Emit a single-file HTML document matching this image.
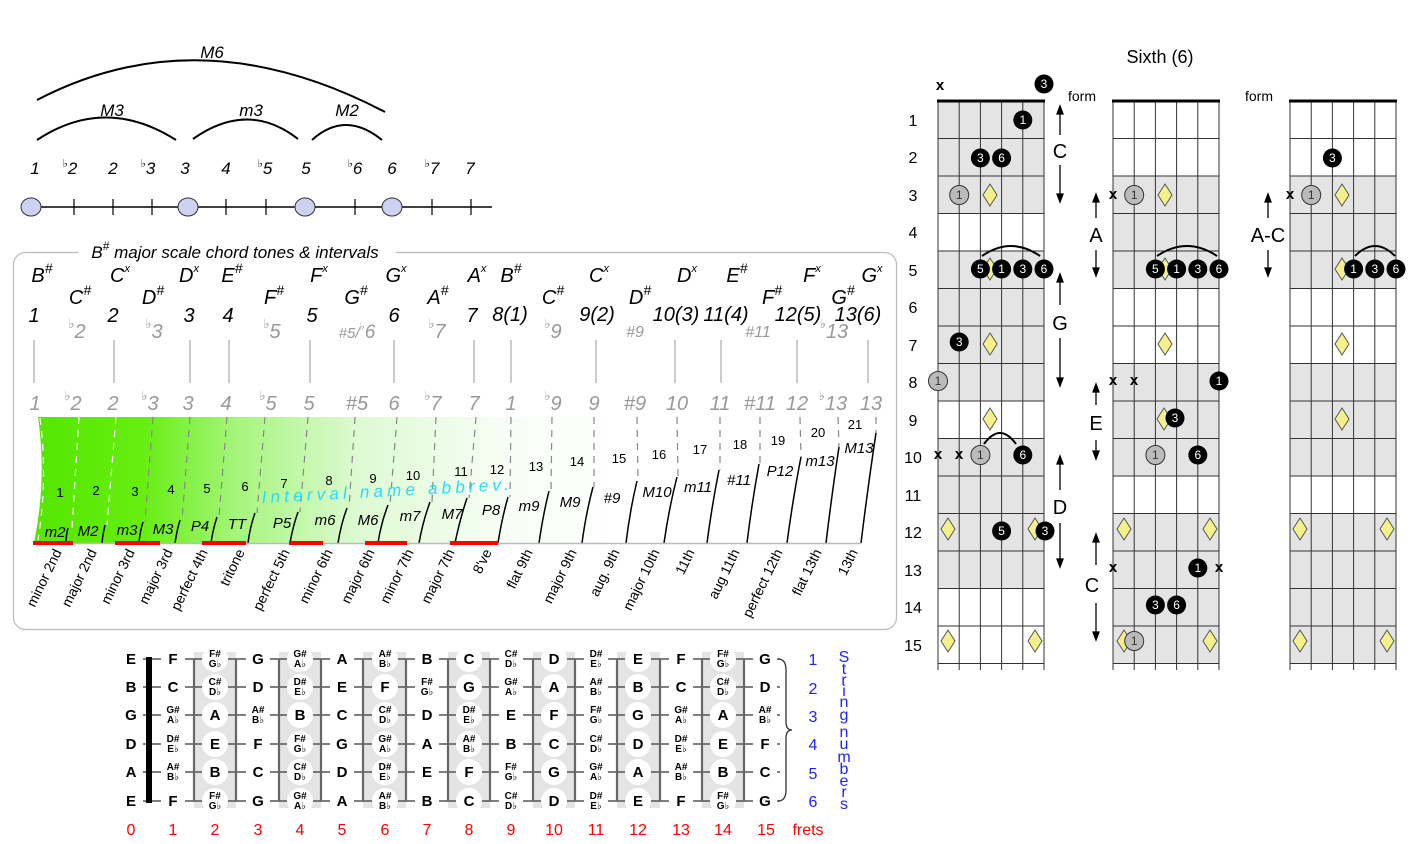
<!DOCTYPE html>
<html><head><meta charset="utf-8"><style>
html,body{margin:0;padding:0;background:#fff}
svg{display:block}
text{font-family:"Liberation Sans","DejaVu Sans",sans-serif}
.it{font-style:italic}
.n{font-weight:bold;font-size:15px;text-anchor:middle}
.s{font-weight:bold;font-size:10px;text-anchor:middle}
.fn{fill:#f00;font-size:16px;text-anchor:middle}
.bl{fill:#22f;font-size:16px;text-anchor:middle}
.dt{fill:#fff;font-size:12px;text-anchor:middle}
.gt{fill:#333;font-size:12px;text-anchor:middle}
.rl{font-size:14px;text-anchor:end}
.g{fill:#999}
.lab{font-size:20px;font-style:italic;text-anchor:middle}
.nm{font-size:13px;text-anchor:middle}
.ab{font-size:15px;font-style:italic;text-anchor:middle}
</style></head><body>
<svg width="1420" height="844" viewBox="0 0 1420 844" xmlns="http://www.w3.org/2000/svg">
<defs>
<linearGradient id="gr" x1="37" y1="0" x2="620" y2="0" gradientUnits="userSpaceOnUse">
<stop offset="0" stop-color="#55e600"/><stop offset="0.18" stop-color="#66ee11"/><stop offset="0.35" stop-color="#a8f580"/><stop offset="0.55" stop-color="#ddfad2"/><stop offset="0.8" stop-color="#f7fef5"/><stop offset="1" stop-color="#fff"/>
</linearGradient>
<rect id="wb" x="-12" y="-11" width="24" height="22" fill="#fff"/>
<circle id="wc" r="13" fill="#fff"/>
<polygon id="dm" points="0,-11 7,0 0,11 -7,0" fill="#f6f08c" stroke="#555" stroke-width="1"/>
<circle id="bk" r="9.5" fill="#000"/>
<circle id="gy" r="9.5" fill="#bbb" stroke="#333" stroke-width="1"/>
</defs>

<!-- TOP LEFT -->
<g fill="none" stroke="#000" stroke-width="2">
<path d="M37,100 Q200,15 385,112"/>
<path d="M37,140 Q105,95 176,140"/>
<path d="M193,139 Q248,100 298,139"/>
<path d="M312,140 Q345,110 382,140"/>
</g>
<g class="it" font-size="17" text-anchor="middle">
<text x="212" y="58">M6</text><text x="112" y="116">M3</text><text x="251" y="116">m3</text><text x="347" y="116">M2</text>
<text x="35" y="174">1</text><text x="70" y="174"><tspan font-size="11" dy="-7">♭</tspan><tspan dy="7">2</tspan></text>
<text x="113" y="174">2</text><text x="148" y="174"><tspan font-size="11" dy="-7">♭</tspan><tspan dy="7">3</tspan></text>
<text x="185" y="174">3</text><text x="226" y="174">4</text><text x="265" y="174"><tspan font-size="11" dy="-7">♭</tspan><tspan dy="7">5</tspan></text>
<text x="306" y="174">5</text><text x="355" y="174"><tspan font-size="11" dy="-7">♭</tspan><tspan dy="7">6</tspan></text>
<text x="392" y="174">6</text><text x="432" y="174"><tspan font-size="11" dy="-7">♭</tspan><tspan dy="7">7</tspan></text><text x="470" y="174">7</text>
</g>
<line x1="22" y1="207" x2="492" y2="207" stroke="#000" stroke-width="1.5"/>
<g stroke="#000" stroke-width="1.2"><line x1="74" y1="199" x2="74" y2="215"/><line x1="113" y1="199" x2="113" y2="215"/><line x1="152" y1="199" x2="152" y2="215"/><line x1="226" y1="199" x2="226" y2="215"/><line x1="266" y1="199" x2="266" y2="215"/><line x1="355" y1="199" x2="355" y2="215"/><line x1="432" y1="199" x2="432" y2="215"/><line x1="471" y1="199" x2="471" y2="215"/></g>
<g fill="#cdd2f3" stroke="#333" stroke-width="1"><ellipse cx="31" cy="207" rx="10" ry="9"/><ellipse cx="188" cy="207" rx="10" ry="9"/><ellipse cx="305" cy="207" rx="10" ry="9"/><ellipse cx="392" cy="207" rx="10" ry="9"/></g>

<!-- INTERVAL BOX -->
<rect x="13.5" y="252.5" width="883" height="377" rx="12" fill="none" stroke="#bbb" stroke-width="1.2"/>
<rect x="78" y="244" width="318" height="16" fill="#fff"/>
<text x="235" y="258" class="it" font-size="17" text-anchor="middle">B<tspan font-size="12" dy="-8">#</tspan><tspan dy="8"> major scale chord tones &amp; intervals</tspan></text>

<g class="lab" font-size="21">
<text x="42" y="282">B<tspan font-size="14" dy="-9">#</tspan></text>
<text x="80" y="304">C<tspan font-size="14" dy="-9">#</tspan></text>
<text x="120" y="282">C<tspan font-size="11" dy="-10">x</tspan></text>
<text x="153" y="304">D<tspan font-size="14" dy="-9">#</tspan></text>
<text x="189" y="282">D<tspan font-size="11" dy="-10">x</tspan></text>
<text x="232" y="282">E<tspan font-size="14" dy="-9">#</tspan></text>
<text x="274" y="304">F<tspan font-size="14" dy="-9">#</tspan></text>
<text x="319" y="282">F<tspan font-size="11" dy="-10">x</tspan></text>
<text x="356" y="304">G<tspan font-size="14" dy="-9">#</tspan></text>
<text x="396" y="282">G<tspan font-size="11" dy="-10">x</tspan></text>
<text x="438" y="304">A<tspan font-size="14" dy="-9">#</tspan></text>
<text x="477" y="282">A<tspan font-size="11" dy="-10">x</tspan></text>
<text x="511" y="282">B<tspan font-size="14" dy="-9">#</tspan></text>
<text x="553" y="304">C<tspan font-size="14" dy="-9">#</tspan></text>
<text x="599" y="282">C<tspan font-size="11" dy="-10">x</tspan></text>
<text x="640" y="304">D<tspan font-size="14" dy="-9">#</tspan></text>
<text x="687" y="282">D<tspan font-size="11" dy="-10">x</tspan></text>
<text x="737" y="282">E<tspan font-size="14" dy="-9">#</tspan></text>
<text x="772" y="304">F<tspan font-size="14" dy="-9">#</tspan></text>
<text x="812" y="282">F<tspan font-size="11" dy="-10">x</tspan></text>
<text x="843" y="304">G<tspan font-size="14" dy="-9">#</tspan></text>
<text x="872" y="282">G<tspan font-size="11" dy="-10">x</tspan></text>
</g>
<g class="lab" font-size="19">
<text x="34" y="322">1</text><text x="113" y="322">2</text><text x="189" y="322">3</text><text x="228" y="322">4</text><text x="312" y="322">5</text><text x="394" y="322">6</text><text x="472" y="322">7</text>
<text x="510" y="321">8(1)</text><text x="597" y="321">9(2)</text><text x="676" y="321">10(3)</text><text x="726" y="321">11(4)</text><text x="798" y="321">12(5)</text><text x="858" y="321">13(6)</text>
</g>
<g class="lab g" font-size="19">
<text x="77" y="338"><tspan font-size="13" dy="-10">♭</tspan><tspan dy="10">2</tspan></text>
<text x="154" y="338"><tspan font-size="13" dy="-10">♭</tspan><tspan dy="10">3</tspan></text>
<text x="272" y="338"><tspan font-size="13" dy="-10">♭</tspan><tspan dy="10">5</tspan></text>
<text x="357" y="338" font-size="15">#5/<tspan font-size="11" dy="-8">♭</tspan><tspan font-size="19" dy="8">6</tspan></text>
<text x="437" y="338"><tspan font-size="13" dy="-10">♭</tspan><tspan dy="10">7</tspan></text>
<text x="553" y="338"><tspan font-size="13" dy="-10">♭</tspan><tspan dy="10">9</tspan></text>
<text x="635" y="337" font-size="16">#9</text>
<text x="758" y="337" font-size="16">#11</text>
<text x="834" y="338"><tspan font-size="13" dy="-10">♭</tspan><tspan dy="10">13</tspan></text>
</g>
<g stroke="#bbb" stroke-width="1.5">
<line x1="34" y1="340" x2="34" y2="383"/><line x1="114" y1="340" x2="114" y2="383"/><line x1="190" y1="340" x2="190" y2="383"/><line x1="229" y1="340" x2="229" y2="383"/><line x1="310" y1="340" x2="310" y2="383"/><line x1="394" y1="340" x2="394" y2="383"/><line x1="474" y1="340" x2="474" y2="383"/><line x1="511" y1="340" x2="511" y2="383"/><line x1="596" y1="340" x2="596" y2="383"/><line x1="675" y1="340" x2="675" y2="383"/><line x1="721" y1="340" x2="721" y2="383"/><line x1="797" y1="340" x2="797" y2="383"/><line x1="868" y1="340" x2="868" y2="383"/>
</g>
<g class="lab g" font-size="19">
<text x="35" y="410">1</text><text x="73" y="410"><tspan font-size="13" dy="-10">♭</tspan><tspan dy="10">2</tspan></text><text x="113" y="410">2</text><text x="150" y="410"><tspan font-size="13" dy="-10">♭</tspan><tspan dy="10">3</tspan></text><text x="188" y="410">3</text><text x="226" y="410">4</text><text x="268" y="410"><tspan font-size="13" dy="-10">♭</tspan><tspan dy="10">5</tspan></text><text x="309" y="410">5</text><text x="357" y="410">#5</text><text x="394" y="410">6</text><text x="433" y="410"><tspan font-size="13" dy="-10">♭</tspan><tspan dy="10">7</tspan></text><text x="474" y="410">7</text>
<text x="511" y="410">1</text><text x="553" y="410"><tspan font-size="13" dy="-10">♭</tspan><tspan dy="10">9</tspan></text><text x="594" y="410">9</text><text x="635" y="410">#9</text><text x="677" y="410">10</text><text x="720" y="410">11</text><text x="760" y="410">#11</text><text x="797" y="410">12</text><text x="833" y="410"><tspan font-size="13" dy="-10">♭</tspan><tspan dy="10">13</tspan></text><text x="871" y="410">13</text>
</g>

<path d="M38,417 Q47,480 34,543 L620,543 L620,417 Z" fill="url(#gr)"/>
<path d="M40,418 Q48,480 38,540" fill="none" stroke="#fff" stroke-width="1.2" stroke-dasharray="7,6"/>
<g fill="none" stroke-width="1.2" stroke-dasharray="7,6">
<g stroke="#fff"><line x1="79" y1="417" x2="72" y2="528"/><line x1="116" y1="417" x2="107" y2="525"/></g>
<g stroke="#888"><line x1="153" y1="417" x2="145" y2="522"/><line x1="190" y1="417" x2="182" y2="520"/><line x1="227" y1="417" x2="219" y2="517"/><line x1="265" y1="417" x2="257" y2="513"/><line x1="308" y1="417" x2="300" y2="512"/><line x1="355" y1="417" x2="349" y2="508"/><line x1="397" y1="417" x2="390" y2="505"/><line x1="436" y1="417" x2="432" y2="502"/><line x1="476" y1="417" x2="469" y2="498"/><line x1="511" y1="417" x2="510" y2="497"/><line x1="552" y1="417" x2="551" y2="491"/><line x1="594" y1="417" x2="594" y2="487"/><line x1="637" y1="417" x2="638" y2="481"/><line x1="677" y1="417" x2="678" y2="477"/><line x1="720" y1="417" x2="720" y2="470"/><line x1="760" y1="417" x2="760" y2="464"/><line x1="800" y1="417" x2="801" y2="457"/><line x1="838" y1="417" x2="839" y2="447"/><line x1="876" y1="417" x2="876" y2="433"/></g>
</g>
<g fill="none" stroke="#000" stroke-width="1.5">
<path d="M66,543 Q66,535 68,528"/><path d="M102,543 Q103,533 105,525"/><path d="M139,543 Q140,531 143,522"/><path d="M175,543 Q177,530 180,520"/><path d="M211,543 Q213,529 217,517"/><path d="M248,543 Q250,527 255,513"/><path d="M290,543 Q293,526 298,512"/><path d="M338,543 Q341,524 347,508"/><path d="M378,543 Q381,523 388,505"/><path d="M419,543 Q423,521 430,502"/><path d="M455,543 Q460,519 467,498"/><path d="M498,543 Q502,518 508,497"/><path d="M539,543 Q543,515 549,491"/><path d="M582,543 Q586,513 593,487"/><path d="M626,543 Q630,510 637,481"/><path d="M664,543 Q669,508 677,477"/><path d="M707,543 Q712,505 719,470"/><path d="M747,543 Q752,502 759,464"/><path d="M787,543 Q793,498 801,457"/><path d="M826,543 Q832,493 839,447"/><path d="M861,543 Q868,486 876,433"/>
</g>
<line x1="33" y1="543.5" x2="861" y2="543.5" stroke="#bbb" stroke-width="1.5"/>
<g stroke="#f00" stroke-width="4"><line x1="33" y1="543" x2="73" y2="543"/><line x1="115" y1="543" x2="160" y2="543"/><line x1="202" y1="543" x2="246" y2="543"/><line x1="289" y1="543" x2="323" y2="543"/><line x1="365" y1="543" x2="407" y2="543"/><line x1="450" y1="543" x2="498" y2="543"/></g>
<g class="nm">
<text x="60" y="497">1</text><text x="96" y="495">2</text><text x="135" y="496">3</text><text x="171" y="494">4</text><text x="207" y="493">5</text><text x="245" y="491">6</text><text x="284" y="488">7</text><text x="329" y="485">8</text><text x="373" y="483">9</text><text x="413" y="480">10</text><text x="461" y="476">11</text><text x="497" y="474">12</text><text x="536" y="471">13</text><text x="577" y="466">14</text><text x="619" y="463">15</text><text x="659" y="459">16</text><text x="700" y="454">17</text><text x="740" y="449">18</text><text x="778" y="445">19</text><text x="818" y="437">20</text><text x="855" y="429">21</text>
</g>
<text x="262" y="503" transform="rotate(-3 262 503)" class="it" font-size="17" fill="#22ddff" letter-spacing="4.2">Interval name abbrev.</text>
<g class="ab">
<text x="55" y="537">m2</text><text x="88" y="536">M2</text><text x="127" y="535">m3</text><text x="163" y="534">M3</text><text x="200" y="531">P4</text><text x="237" y="529">TT</text><text x="282" y="528">P5</text><text x="325" y="525">m6</text><text x="368" y="525">M6</text><text x="410" y="521">m7</text><text x="452" y="519">M7</text><text x="491" y="515">P8</text><text x="529" y="511">m9</text><text x="570" y="507">M9</text><text x="612" y="503">#9</text><text x="657" y="497">M10</text><text x="698" y="492">m11</text><text x="739" y="485">#11</text><text x="780" y="476">P12</text><text x="820" y="466">m13</text><text x="859" y="453">M13</text>
</g>
<g class="rl">
<text transform="translate(62,552) rotate(-64)">minor 2nd</text>
<text transform="translate(97,552) rotate(-64)">major 2nd</text>
<text transform="translate(135,552) rotate(-64)">minor 3rd</text>
<text transform="translate(173,552) rotate(-64)">major 3rd</text>
<text transform="translate(208,552) rotate(-64)">perfect 4th</text>
<text transform="translate(245,552) rotate(-64)">tritone</text>
<text transform="translate(290,552) rotate(-64)">perfect 5th</text>
<text transform="translate(333,552) rotate(-64)">minor 6th</text>
<text transform="translate(375,552) rotate(-64)">major 6th</text>
<text transform="translate(414,552) rotate(-64)">minor 7th</text>
<text transform="translate(455,552) rotate(-64)">major 7th</text>
<text transform="translate(492,552) rotate(-64)">8've</text>
<text transform="translate(533,552) rotate(-64)">flat 9th</text>
<text transform="translate(577,552) rotate(-64)">major 9th</text>
<text transform="translate(620,552) rotate(-64)">aug. 9th</text>
<text transform="translate(660,552) rotate(-64)">major 10th</text>
<text transform="translate(695,552) rotate(-64)">11th</text>
<text transform="translate(740,552) rotate(-64)">aug 11th</text>
<text transform="translate(783,552) rotate(-64)">perfect 12th</text>
<text transform="translate(822,552) rotate(-64)">flat 13th</text>
<text transform="translate(858,552) rotate(-64)">13th</text>
</g>

<!-- FRETBOARD -->
<g fill="#e4e4e4"><rect x="194" y="652" width="42" height="156"/><rect x="279" y="652" width="42" height="156"/><rect x="363" y="652" width="43" height="156"/><rect x="448" y="652" width="42" height="156"/><rect x="533" y="652" width="42" height="156"/><rect x="617" y="652" width="43" height="156"/><rect x="702" y="652" width="42" height="156"/></g>
<g stroke="#555" stroke-width="1.5"><line x1="143" y1="659" x2="780" y2="659"/><line x1="143" y1="687" x2="780" y2="687"/><line x1="143" y1="715" x2="780" y2="715"/><line x1="143" y1="744" x2="780" y2="744"/><line x1="143" y1="772" x2="780" y2="772"/><line x1="143" y1="801" x2="780" y2="801"/></g>
<g stroke="#666" stroke-width="2.2"><line x1="194" y1="659" x2="194" y2="801"/><line x1="236" y1="659" x2="236" y2="801"/><line x1="279" y1="659" x2="279" y2="801"/><line x1="321" y1="659" x2="321" y2="801"/><line x1="363" y1="659" x2="363" y2="801"/><line x1="406" y1="659" x2="406" y2="801"/><line x1="448" y1="659" x2="448" y2="801"/><line x1="490" y1="659" x2="490" y2="801"/><line x1="533" y1="659" x2="533" y2="801"/><line x1="575" y1="659" x2="575" y2="801"/><line x1="617" y1="659" x2="617" y2="801"/><line x1="660" y1="659" x2="660" y2="801"/><line x1="702" y1="659" x2="702" y2="801"/><line x1="744" y1="659" x2="744" y2="801"/></g>
<rect x="146" y="657" width="6" height="146" fill="#000"/>
<!-- white bgs -->
<g>
<use href="#wb" x="173" y="659"/><use href="#wb" x="258" y="659"/><use href="#wb" x="342" y="659"/><use href="#wb" x="427" y="659"/><use href="#wb" x="511" y="659"/><use href="#wb" x="596" y="659"/><use href="#wb" x="681" y="659"/><use href="#wb" x="765" y="659"/>
<use href="#wb" x="173" y="687"/><use href="#wb" x="258" y="687"/><use href="#wb" x="342" y="687"/><use href="#wb" x="427" y="687"/><use href="#wb" x="511" y="687"/><use href="#wb" x="596" y="687"/><use href="#wb" x="681" y="687"/><use href="#wb" x="765" y="687"/>
<use href="#wb" x="173" y="715"/><use href="#wb" x="258" y="715"/><use href="#wb" x="342" y="715"/><use href="#wb" x="427" y="715"/><use href="#wb" x="511" y="715"/><use href="#wb" x="596" y="715"/><use href="#wb" x="681" y="715"/><use href="#wb" x="765" y="715"/>
<use href="#wb" x="173" y="744"/><use href="#wb" x="258" y="744"/><use href="#wb" x="342" y="744"/><use href="#wb" x="427" y="744"/><use href="#wb" x="511" y="744"/><use href="#wb" x="596" y="744"/><use href="#wb" x="681" y="744"/><use href="#wb" x="765" y="744"/>
<use href="#wb" x="173" y="772"/><use href="#wb" x="258" y="772"/><use href="#wb" x="342" y="772"/><use href="#wb" x="427" y="772"/><use href="#wb" x="511" y="772"/><use href="#wb" x="596" y="772"/><use href="#wb" x="681" y="772"/><use href="#wb" x="765" y="772"/>
<use href="#wb" x="173" y="801"/><use href="#wb" x="258" y="801"/><use href="#wb" x="342" y="801"/><use href="#wb" x="427" y="801"/><use href="#wb" x="511" y="801"/><use href="#wb" x="596" y="801"/><use href="#wb" x="681" y="801"/><use href="#wb" x="765" y="801"/>
<use href="#wc" x="215" y="659"/><use href="#wc" x="300" y="659"/><use href="#wc" x="385" y="659"/><use href="#wc" x="469" y="659"/><use href="#wc" x="554" y="659"/><use href="#wc" x="638" y="659"/><use href="#wc" x="723" y="659"/>
<use href="#wc" x="215" y="687"/><use href="#wc" x="300" y="687"/><use href="#wc" x="385" y="687"/><use href="#wc" x="469" y="687"/><use href="#wc" x="554" y="687"/><use href="#wc" x="638" y="687"/><use href="#wc" x="723" y="687"/>
<use href="#wc" x="215" y="715"/><use href="#wc" x="300" y="715"/><use href="#wc" x="385" y="715"/><use href="#wc" x="469" y="715"/><use href="#wc" x="554" y="715"/><use href="#wc" x="638" y="715"/><use href="#wc" x="723" y="715"/>
<use href="#wc" x="215" y="744"/><use href="#wc" x="300" y="744"/><use href="#wc" x="385" y="744"/><use href="#wc" x="469" y="744"/><use href="#wc" x="554" y="744"/><use href="#wc" x="638" y="744"/><use href="#wc" x="723" y="744"/>
<use href="#wc" x="215" y="772"/><use href="#wc" x="300" y="772"/><use href="#wc" x="385" y="772"/><use href="#wc" x="469" y="772"/><use href="#wc" x="554" y="772"/><use href="#wc" x="638" y="772"/><use href="#wc" x="723" y="772"/>
<use href="#wc" x="215" y="801"/><use href="#wc" x="300" y="801"/><use href="#wc" x="385" y="801"/><use href="#wc" x="469" y="801"/><use href="#wc" x="554" y="801"/><use href="#wc" x="638" y="801"/><use href="#wc" x="723" y="801"/>
</g>
<!-- open strings -->
<g class="n"><text x="131" y="664">E</text><text x="131" y="692">B</text><text x="131" y="720">G</text><text x="131" y="749">D</text><text x="131" y="777">A</text><text x="131" y="806">E</text></g>
<!-- string 1 & 6 -->
<g class="n">
<text x="173" y="664">F</text><text x="258" y="664">G</text><text x="342" y="664">A</text><text x="427" y="664">B</text><text x="469" y="664">C</text><text x="554" y="664">D</text><text x="638" y="664">E</text><text x="681" y="664">F</text><text x="765" y="664">G</text>
<text x="173" y="806">F</text><text x="258" y="806">G</text><text x="342" y="806">A</text><text x="427" y="806">B</text><text x="469" y="806">C</text><text x="554" y="806">D</text><text x="638" y="806">E</text><text x="681" y="806">F</text><text x="765" y="806">G</text>
<text x="173" y="692">C</text><text x="258" y="692">D</text><text x="342" y="692">E</text><text x="385" y="692">F</text><text x="469" y="692">G</text><text x="554" y="692">A</text><text x="638" y="692">B</text><text x="681" y="692">C</text><text x="765" y="692">D</text>
<text x="215" y="720">A</text><text x="300" y="720">B</text><text x="342" y="720">C</text><text x="427" y="720">D</text><text x="511" y="720">E</text><text x="554" y="720">F</text><text x="638" y="720">G</text><text x="723" y="720">A</text>
<text x="215" y="749">E</text><text x="258" y="749">F</text><text x="342" y="749">G</text><text x="427" y="749">A</text><text x="511" y="749">B</text><text x="554" y="749">C</text><text x="638" y="749">D</text><text x="723" y="749">E</text><text x="765" y="749">F</text>
<text x="215" y="777">B</text><text x="258" y="777">C</text><text x="342" y="777">D</text><text x="427" y="777">E</text><text x="469" y="777">F</text><text x="554" y="777">G</text><text x="638" y="777">A</text><text x="723" y="777">B</text><text x="765" y="777">C</text>
</g>
<g class="s">
<text x="215" y="657">F#</text><text x="215" y="667">G♭</text><text x="300" y="657">G#</text><text x="300" y="667">A♭</text><text x="385" y="657">A#</text><text x="385" y="667">B♭</text><text x="511" y="657">C#</text><text x="511" y="667">D♭</text><text x="596" y="657">D#</text><text x="596" y="667">E♭</text><text x="723" y="657">F#</text><text x="723" y="667">G♭</text>
<text x="215" y="799">F#</text><text x="215" y="809">G♭</text><text x="300" y="799">G#</text><text x="300" y="809">A♭</text><text x="385" y="799">A#</text><text x="385" y="809">B♭</text><text x="511" y="799">C#</text><text x="511" y="809">D♭</text><text x="596" y="799">D#</text><text x="596" y="809">E♭</text><text x="723" y="799">F#</text><text x="723" y="809">G♭</text>
<text x="215" y="685">C#</text><text x="215" y="695">D♭</text><text x="300" y="685">D#</text><text x="300" y="695">E♭</text><text x="427" y="685">F#</text><text x="427" y="695">G♭</text><text x="511" y="685">G#</text><text x="511" y="695">A♭</text><text x="596" y="685">A#</text><text x="596" y="695">B♭</text><text x="723" y="685">C#</text><text x="723" y="695">D♭</text>
<text x="173" y="713">G#</text><text x="173" y="723">A♭</text><text x="258" y="713">A#</text><text x="258" y="723">B♭</text><text x="385" y="713">C#</text><text x="385" y="723">D♭</text><text x="469" y="713">D#</text><text x="469" y="723">E♭</text><text x="596" y="713">F#</text><text x="596" y="723">G♭</text><text x="681" y="713">G#</text><text x="681" y="723">A♭</text><text x="765" y="713">A#</text><text x="765" y="723">B♭</text>
<text x="173" y="742">D#</text><text x="173" y="752">E♭</text><text x="300" y="742">F#</text><text x="300" y="752">G♭</text><text x="385" y="742">G#</text><text x="385" y="752">A♭</text><text x="469" y="742">A#</text><text x="469" y="752">B♭</text><text x="596" y="742">C#</text><text x="596" y="752">D♭</text><text x="681" y="742">D#</text><text x="681" y="752">E♭</text>
<text x="173" y="770">A#</text><text x="173" y="780">B♭</text><text x="300" y="770">C#</text><text x="300" y="780">D♭</text><text x="385" y="770">D#</text><text x="385" y="780">E♭</text><text x="511" y="770">F#</text><text x="511" y="780">G♭</text><text x="596" y="770">G#</text><text x="596" y="780">A♭</text><text x="681" y="770">A#</text><text x="681" y="780">B♭</text>
</g>
<path d="M778,659 Q786,659 786,670 L786,722 Q786,730 792,730 Q786,730 786,738 L786,790 Q786,801 778,801" fill="none" stroke="#333" stroke-width="1.3"/>
<g class="bl"><text x="813" y="665">1</text><text x="813" y="694">2</text><text x="813" y="722">3</text><text x="813" y="750">4</text><text x="813" y="779">5</text><text x="813" y="807">6</text></g>
<g class="bl" font-size="14"><text x="844" y="662">S</text><text x="844" y="674">t</text><text x="844" y="685">r</text><text x="844" y="696">i</text><text x="844" y="707">n</text><text x="844" y="720">g</text><text x="844" y="737">n</text><text x="844" y="749">u</text><text x="844" y="762">m</text><text x="844" y="774">b</text><text x="844" y="786">e</text><text x="844" y="797">r</text><text x="844" y="809">s</text></g>
<g class="fn"><text x="131" y="835">0</text><text x="173" y="835">1</text><text x="215" y="835">2</text><text x="258" y="835">3</text><text x="300" y="835">4</text><text x="342" y="835">5</text><text x="385" y="835">6</text><text x="427" y="835">7</text><text x="469" y="835">8</text><text x="511" y="835">9</text><text x="554" y="835">10</text><text x="596" y="835">11</text><text x="638" y="835">12</text><text x="681" y="835">13</text><text x="723" y="835">14</text><text x="766" y="835">15</text><text x="808" y="835">frets</text></g>

<!-- CHORD DIAGRAMS -->
<text x="1160" y="63" font-size="18" text-anchor="middle">Sixth (6)</text>
<text x="1068" y="101" font-size="14">form</text><text x="1245" y="101" font-size="14">form</text>
<g fill="#e4e4e4">
<rect x="938" y="101" width="106" height="112.5"/><rect x="938" y="251" width="106" height="150"/><rect x="938" y="438.5" width="106" height="150"/>
<rect x="1113" y="176" width="106" height="112.5"/><rect x="1113" y="363.5" width="106" height="112.5"/><rect x="1113" y="513.5" width="106" height="150"/>
<rect x="1290" y="176" width="106" height="112.5"/><rect x="1290" y="363.5" width="106" height="112.5"/><rect x="1290" y="513.5" width="106" height="150"/>
</g>
<g id="grid" stroke="#333" stroke-width="1">
<line x1="938" y1="101" x2="938" y2="670"/><line x1="959.2" y1="101" x2="959.2" y2="670"/><line x1="980.4" y1="101" x2="980.4" y2="670"/><line x1="1001.6" y1="101" x2="1001.6" y2="670"/><line x1="1022.8" y1="101" x2="1022.8" y2="670"/><line x1="1044" y1="101" x2="1044" y2="670"/>
<line x1="938" y1="138.5" x2="1044" y2="138.5"/><line x1="938" y1="176" x2="1044" y2="176"/><line x1="938" y1="213.5" x2="1044" y2="213.5"/><line x1="938" y1="251" x2="1044" y2="251"/><line x1="938" y1="288.5" x2="1044" y2="288.5"/><line x1="938" y1="326" x2="1044" y2="326"/><line x1="938" y1="363.5" x2="1044" y2="363.5"/><line x1="938" y1="401" x2="1044" y2="401"/><line x1="938" y1="438.5" x2="1044" y2="438.5"/><line x1="938" y1="476" x2="1044" y2="476"/><line x1="938" y1="513.5" x2="1044" y2="513.5"/><line x1="938" y1="551" x2="1044" y2="551"/><line x1="938" y1="588.5" x2="1044" y2="588.5"/><line x1="938" y1="626" x2="1044" y2="626"/><line x1="938" y1="663.5" x2="1044" y2="663.5"/>
</g>
<use href="#grid" x="175"/><use href="#grid" x="352"/>
<g stroke="#000" stroke-width="3"><line x1="937" y1="101" x2="1045" y2="101"/><line x1="1112" y1="101" x2="1220" y2="101"/><line x1="1289" y1="101" x2="1397" y2="101"/></g>
<g font-size="16" text-anchor="middle"><text x="913" y="126">1</text><text x="913" y="163">2</text><text x="913" y="201">3</text><text x="913" y="238">4</text><text x="913" y="276">5</text><text x="913" y="313">6</text><text x="913" y="351">7</text><text x="913" y="388">8</text><text x="913" y="426">9</text><text x="913" y="463">10</text><text x="913" y="501">11</text><text x="913" y="538">12</text><text x="913" y="576">13</text><text x="913" y="613">14</text><text x="913" y="651">15</text></g>
<!-- arrows -->
<g stroke="#000" stroke-width="1.3" fill="#000">
<line x1="1060" y1="112" x2="1060" y2="135"/><polygon points="1060,106 1057,114 1063,114"/><line x1="1060" y1="165" x2="1060" y2="194"/><polygon points="1060,202 1057,194 1063,194"/>
<line x1="1060" y1="280" x2="1060" y2="305"/><polygon points="1060,274 1057,282 1063,282"/><line x1="1060" y1="338" x2="1060" y2="378"/><polygon points="1060,386 1057,378 1063,378"/>
<line x1="1060" y1="462" x2="1060" y2="490"/><polygon points="1060,456 1057,464 1063,464"/><line x1="1060" y1="523" x2="1060" y2="559"/><polygon points="1060,567 1057,559 1063,559"/>
<line x1="1096" y1="200" x2="1096" y2="218"/><polygon points="1096,194 1093,202 1099,202"/><line x1="1096" y1="250" x2="1096" y2="268"/><polygon points="1096,276 1093,268 1099,268"/>
<line x1="1096" y1="390" x2="1096" y2="405"/><polygon points="1096,384 1093,392 1099,392"/><line x1="1096" y1="440" x2="1096" y2="451"/><polygon points="1096,459 1093,451 1099,451"/>
<line x1="1096" y1="540" x2="1096" y2="565"/><polygon points="1096,534 1093,542 1099,542"/><line x1="1096" y1="603" x2="1096" y2="632"/><polygon points="1096,640 1093,632 1099,632"/>
<line x1="1268" y1="200" x2="1268" y2="218"/><polygon points="1268,194 1265,202 1271,202"/><line x1="1268" y1="250" x2="1268" y2="268"/><polygon points="1268,276 1265,268 1271,268"/>
</g>
<g font-size="20" text-anchor="middle"><text x="1060" y="158">C</text><text x="1060" y="330">G</text><text x="1060" y="514">D</text><text x="1096" y="242">A</text><text x="1096" y="430">E</text><text x="1092" y="592">C</text><text x="1268" y="242">A-C</text></g>
<!-- diamonds -->
<g>
<use href="#dm" x="990" y="195"/><use href="#dm" x="990" y="269"/><use href="#dm" x="990" y="344"/><use href="#dm" x="990" y="419"/><use href="#dm" x="948" y="529"/><use href="#dm" x="1035" y="529"/><use href="#dm" x="948" y="641"/><use href="#dm" x="1035" y="641"/>
<use href="#dm" x="1165" y="195"/><use href="#dm" x="1165" y="269"/><use href="#dm" x="1165" y="344"/><use href="#dm" x="1164" y="419"/><use href="#dm" x="1124" y="529"/><use href="#dm" x="1210" y="529"/><use href="#dm" x="1124" y="641"/><use href="#dm" x="1210" y="641"/>
<use href="#dm" x="1342" y="195"/><use href="#dm" x="1342" y="269"/><use href="#dm" x="1342" y="344"/><use href="#dm" x="1342" y="419"/><use href="#dm" x="1300" y="529"/><use href="#dm" x="1387" y="529"/><use href="#dm" x="1300" y="641"/><use href="#dm" x="1387" y="641"/>
</g>
<!-- arcs -->
<g fill="none" stroke="#000" stroke-width="2"><path d="M982,256 Q1011,236 1040,256"/><path d="M984,444 Q1000,422 1016,444"/><path d="M1157,256 Q1187,236 1217,256"/><path d="M1355,256 Q1375,236 1395,256"/></g>
<!-- dots -->
<g>
<use href="#bk" x="1044" y="84"/><use href="#bk" x="1022.8" y="120"/><use href="#bk" x="980.4" y="158"/><use href="#bk" x="1001.6" y="158"/><use href="#gy" x="959.2" y="195"/>
<use href="#bk" x="980.4" y="269"/><use href="#bk" x="1001.6" y="269"/><use href="#bk" x="1022.8" y="269"/><use href="#bk" x="1044" y="269"/>
<use href="#bk" x="959.2" y="342"/><use href="#gy" x="938" y="381"/><use href="#gy" x="980.4" y="455"/><use href="#bk" x="1022.8" y="455"/><use href="#bk" x="1001.6" y="531"/><use href="#bk" x="1045" y="531"/>
<use href="#gy" x="1134.2" y="195"/><use href="#bk" x="1155.4" y="269"/><use href="#bk" x="1176.6" y="269"/><use href="#bk" x="1197.8" y="269"/><use href="#bk" x="1219" y="269"/>
<use href="#bk" x="1219" y="381"/><use href="#bk" x="1175" y="418"/><use href="#gy" x="1155.4" y="455"/><use href="#bk" x="1197.8" y="455"/><use href="#bk" x="1197.8" y="568"/><use href="#bk" x="1155.4" y="605"/><use href="#bk" x="1176.6" y="605"/><use href="#gy" x="1134.2" y="641"/>
<use href="#bk" x="1332.4" y="158"/><use href="#gy" x="1311.2" y="195"/><use href="#bk" x="1353.6" y="269"/><use href="#bk" x="1374.8" y="269"/><use href="#bk" x="1396" y="269"/>
</g>
<g class="dt">
<text x="1044" y="88">3</text><text x="1022.8" y="124">1</text><text x="980.4" y="162">3</text><text x="1001.6" y="162">6</text>
<text x="980.4" y="273">5</text><text x="1001.6" y="273">1</text><text x="1022.8" y="273">3</text><text x="1044" y="273">6</text>
<text x="959.2" y="346">3</text><text x="1022.8" y="459">6</text><text x="1001.6" y="535">5</text><text x="1045" y="535">3</text>
<text x="1155.4" y="273">5</text><text x="1176.6" y="273">1</text><text x="1197.8" y="273">3</text><text x="1219" y="273">6</text>
<text x="1219" y="385">1</text><text x="1175" y="422">3</text><text x="1197.8" y="459">6</text><text x="1197.8" y="572">1</text><text x="1155.4" y="609">3</text><text x="1176.6" y="609">6</text>
<text x="1332.4" y="162">3</text><text x="1353.6" y="273">1</text><text x="1374.8" y="273">3</text><text x="1396" y="273">6</text>
</g>
<g class="gt"><text x="959.2" y="199">1</text><text x="938" y="385">1</text><text x="980.4" y="459">1</text><text x="1134.2" y="199">1</text><text x="1155.4" y="459">1</text><text x="1134.2" y="645">1</text><text x="1311.2" y="199">1</text></g>
<g font-size="15" font-weight="bold" text-anchor="middle">
<text x="940" y="90">x</text><text x="938" y="459">x</text><text x="959" y="459">x</text>
<text x="1113" y="199">x</text><text x="1113" y="385">x</text><text x="1134" y="385">x</text><text x="1113" y="572">x</text><text x="1219" y="572">x</text>
<text x="1290" y="199">x</text>
</g>
</svg>
</body></html>
